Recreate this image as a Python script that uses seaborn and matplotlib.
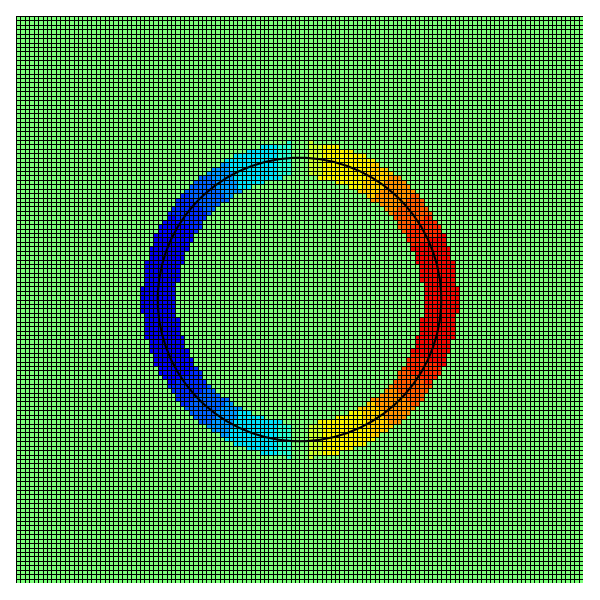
import numpy as np
import matplotlib
matplotlib.use("Agg")
import matplotlib.pyplot as plt
import seaborn as sns

# --- data ---
n_cells = 128                      # grid is 128 x 128 cells
ring_inner = 27.8                  # inner radius of coloured band (cells)
ring_outer = 35.6                  # outer radius of coloured band (cells)
circle_radius = 32.0               # black reference circle (cells)
# angle from the vertical axis (deg) -> value bands
angle_bounds_deg = [0, 4, 9, 28, 36, 47, 57, 65, 90.1]
right_levels = [0.0, 0.18, 0.30, 0.38, 0.50, 0.62, 0.72, 0.80]
left_levels = [0.0, -0.20, -0.30, -0.45, -0.55, -0.66, -0.74, -0.80]
value_min, value_max = -1.0, 1.0

# --- build the field from the read values ---
c = np.arange(n_cells) + 0.5 - n_cells / 2
X, Y = np.meshgrid(c, c)
R = np.hypot(X, Y)
ang = np.degrees(np.arctan2(np.abs(X), np.abs(Y)))   # 0 at top/bottom, 90 at sides
band = np.clip(np.digitize(ang, angle_bounds_deg) - 1, 0, len(right_levels) - 1)
vals = np.where(X >= 0, np.array(right_levels)[band], np.array(left_levels)[band])
field = np.where((R >= ring_inner) & (R <= ring_outer), vals, 0.0)

fig = plt.figure(figsize=(6, 6), dpi=100)
ax = fig.add_axes([16 / 600, 17 / 600, 567 / 600, 567 / 600])
sns.heatmap(field, cmap="jet", vmin=value_min, vmax=value_max, cbar=False,
            linewidths=0.6, linecolor="black", xticklabels=False,
            yticklabels=False, square=False, ax=ax)
ax.add_patch(plt.Circle((n_cells / 2, n_cells / 2), circle_radius,
                        fill=False, color="black", lw=1.5, zorder=5))
ax.set_xlim(0, n_cells)
ax.set_ylim(n_cells, 0)
ax.set_xlabel("")
ax.set_ylabel("")
fig.savefig("out.png", dpi=100)
